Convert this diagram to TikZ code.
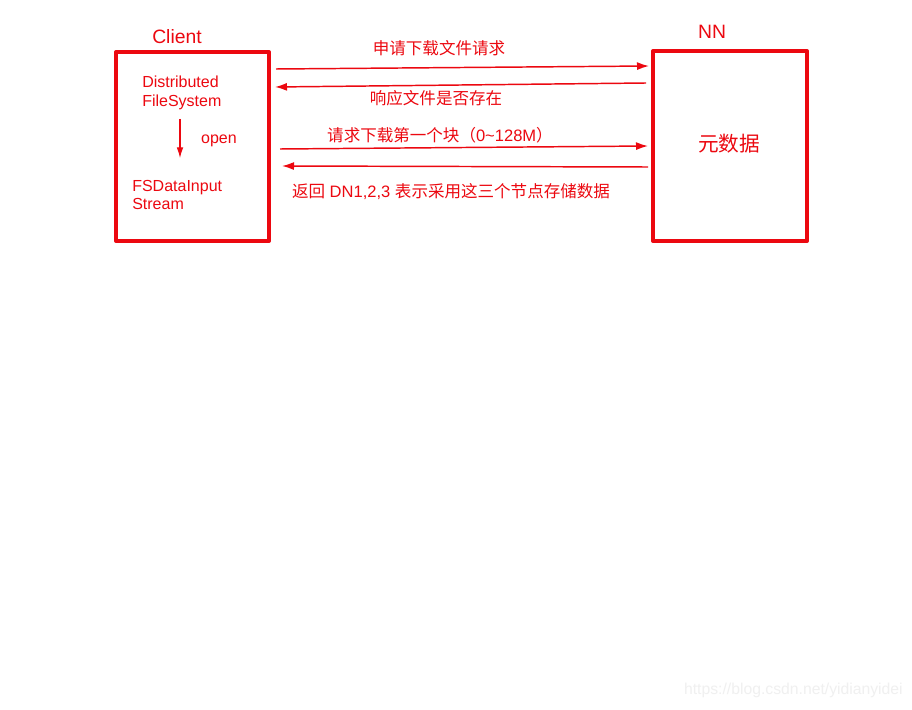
\documentclass[tikz,border=0pt]{standalone}
\usepackage{fontspec}
\setmainfont{Liberation Sans}
\newfontfamily\cjk{Noto Sans CJK SC}
\newfontfamily\lat{Liberation Sans}
\usetikzlibrary{arrows.meta}
\definecolor{rd}{RGB}{236,8,16}
\definecolor{wm}{RGB}{240,240,240}
\begin{document}
\begin{tikzpicture}[x=0.75pt,y=-0.75pt,
  box/.style={draw=rd,line width=3pt,line join=round},
  lbl/.style={text=rd,inner sep=0pt,font=\fontsize{12.4}{15}\selectfont\cjk},
  inlbl/.style={text=rd,inner sep=0pt,align=left,font=\fontsize{12}{13.8}\selectfont},
  big/.style={text=rd,inner sep=0pt,font=\fontsize{14.5}{17}\selectfont},
  msg/.style={draw=rd,line width=1.1pt,-{Latex[length=9pt,width=6pt]}},
  inner/.style={draw=rd,line width=0.8pt,-{Latex[length=8pt,width=5pt]}}]
\useasboundingbox (0,0) rectangle (912,709);
\fill[white] (0,0) rectangle (912,709);
% boxes
\draw[box] (116,52) rectangle (269,241);
\draw[box] (653,51) rectangle (807,241);
\node[big] (client) at (177,37) {Client};
\node[big] (nn) at (712,32) {NN};
\node[text=rd,inner sep=0pt,font=\fontsize{15.5}{18}\selectfont\cjk] (meta) at (729,144) {元数据};
% inside client
\node[inlbl,anchor=west] (dfs) at (142,93) {Distributed\\FileSystem};
\node[inlbl,anchor=west] (fsd) at (132,195) {FSDataInput\\Stream};
\node[inlbl] (open) at (219,141) {open};
\coordinate (o1) at (180,119);
\coordinate (o2) at (180,158);
\draw[inner] (o1) -- (o2);
% messages
\coordinate (a1s) at (276,69); \coordinate (a1e) at (649,66);
\coordinate (a2s) at (646,83); \coordinate (a2e) at (275,87);
\coordinate (a3s) at (280,149); \coordinate (a3e) at (648,146);
\coordinate (a4s) at (648,167); \coordinate (a4e) at (282,166);
\draw[msg] (a1s) -- (a1e);
\draw[msg] (a2s) -- (a2e);
\draw[msg] (a3s) -- (a3e);
\draw[msg] (a4s) -- (a4e);
\node[lbl] (t1) at (439,48) {申请下载文件请求};
\node[lbl] (t2) at (436,98) {响应文件是否存在};
\node[lbl] (t3) at (440,135) {请求下载第一个块（{\lat 0\textasciitilde128M}）};
\node[lbl] (t4) at (451,192) {返回{\lat\ DN1,2,3\ }表示采用这三个节点存储数据};
% watermark
\node[text=wm,inner sep=0pt,anchor=east,font=\fontsize{11.8}{13}\selectfont] (wmk) at (903,690) {https://blog.csdn.net/yidianyidei};
\end{tikzpicture}
\end{document}
